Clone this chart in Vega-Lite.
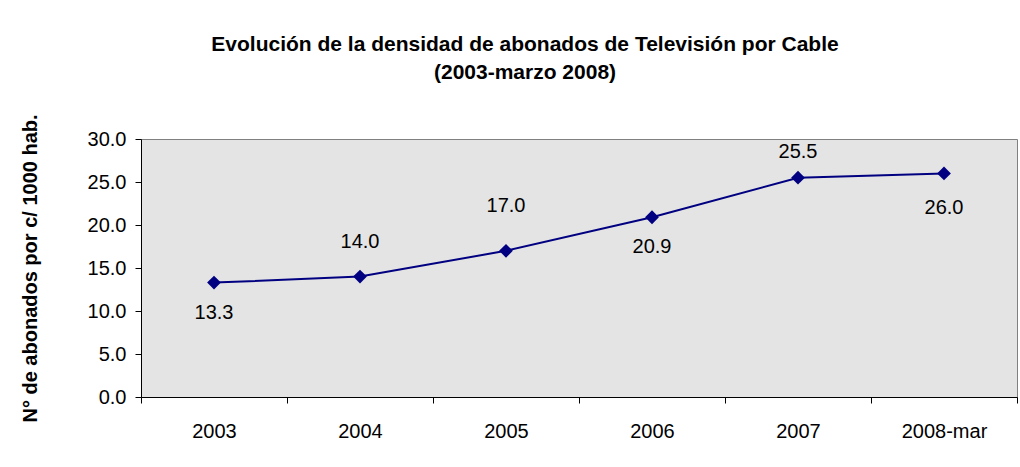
{
  "$schema": "https://vega.github.io/schema/vega-lite/v6.json",
  "autosize": {"type": "none"},
  "padding": {"left": 141, "top": 139, "right": 3, "bottom": 70},
  "width": 876,
  "height": 258,
  "background": "white",
  "config": {
    "font": "Liberation Sans",
    "view": {"fill": "#e4e4e4", "stroke": "#808080", "strokeWidth": 1}
  },
  "title": {
    "text": ["Evolución de la densidad de abonados de Televisión por Cable", "(2003-marzo 2008)"],
    "font": "Liberation Sans",
    "fontSize": 21,
    "fontWeight": "bold",
    "color": "black",
    "anchor": "middle",
    "dx": -54,
    "lineHeight": 28,
    "offset": 31
  },
  "data": {
    "values": [
      {"periodo": "2003", "densidad": 13.3},
      {"periodo": "2004", "densidad": 14.0},
      {"periodo": "2005", "densidad": 17.0},
      {"periodo": "2006", "densidad": 20.9},
      {"periodo": "2007", "densidad": 25.5},
      {"periodo": "2008-mar", "densidad": 26.0}
    ]
  },
  "encoding": {
    "x": {
      "field": "periodo",
      "type": "ordinal",
      "sort": null,
      "scale": {"paddingInner": 0, "paddingOuter": 0},
      "axis": {
        "title": null,
        "labelAngle": 0,
        "labelFont": "Liberation Sans",
        "labelFontSize": 20,
        "labelColor": "black",
        "labelPadding": 18,
        "tickBand": "extent",
        "tickSize": 6,
        "tickColor": "black",
        "domainColor": "black",
        "grid": false
      }
    },
    "y": {
      "field": "densidad",
      "type": "quantitative",
      "scale": {"domain": [0, 30], "nice": false},
      "axis": {
        "title": "N° de abonados por c/ 1000 hab.",
        "titleFont": "Liberation Sans",
        "titleFontSize": 20,
        "titleFontWeight": "bold",
        "titleColor": "black",
        "titlePadding": 47,
        "values": [0, 5, 10, 15, 20, 25, 30],
        "format": ".1f",
        "labelFont": "Liberation Sans",
        "labelFontSize": 20,
        "labelColor": "black",
        "labelPadding": 9,
        "tickSize": 6,
        "tickColor": "black",
        "domainColor": "black",
        "grid": false
      }
    }
  },
  "layer": [
    {"mark": {"type": "line", "color": "#000080", "strokeWidth": 2}},
    {"mark": {"type": "point", "shape": "diamond", "filled": true, "color": "#000080", "size": 190, "opacity": 1}},
    {
      "transform": [{"filter": {"field": "periodo", "equal": "2004"}}],
      "mark": {"type": "text", "dy": -35, "fontSize": 20, "font": "Liberation Sans", "color": "black"},
      "encoding": {"text": {"field": "densidad", "type": "quantitative", "format": ".1f"}}
    },
    {
      "transform": [{"filter": {"field": "periodo", "equal": "2005"}}],
      "mark": {"type": "text", "dy": -45, "fontSize": 20, "font": "Liberation Sans", "color": "black"},
      "encoding": {"text": {"field": "densidad", "type": "quantitative", "format": ".1f"}}
    },
    {
      "transform": [{"filter": {"field": "periodo", "equal": "2007"}}],
      "mark": {"type": "text", "dy": -26, "fontSize": 20, "font": "Liberation Sans", "color": "black"},
      "encoding": {"text": {"field": "densidad", "type": "quantitative", "format": ".1f"}}
    },
    {
      "transform": [{"filter": {"field": "periodo", "oneOf": ["2003", "2006"]}}],
      "mark": {"type": "text", "dy": 30, "fontSize": 20, "font": "Liberation Sans", "color": "black"},
      "encoding": {"text": {"field": "densidad", "type": "quantitative", "format": ".1f"}}
    },
    {
      "transform": [{"filter": {"field": "periodo", "equal": "2008-mar"}}],
      "mark": {"type": "text", "dy": 35, "fontSize": 20, "font": "Liberation Sans", "color": "black"},
      "encoding": {"text": {"field": "densidad", "type": "quantitative", "format": ".1f"}}
    }
  ]
}
